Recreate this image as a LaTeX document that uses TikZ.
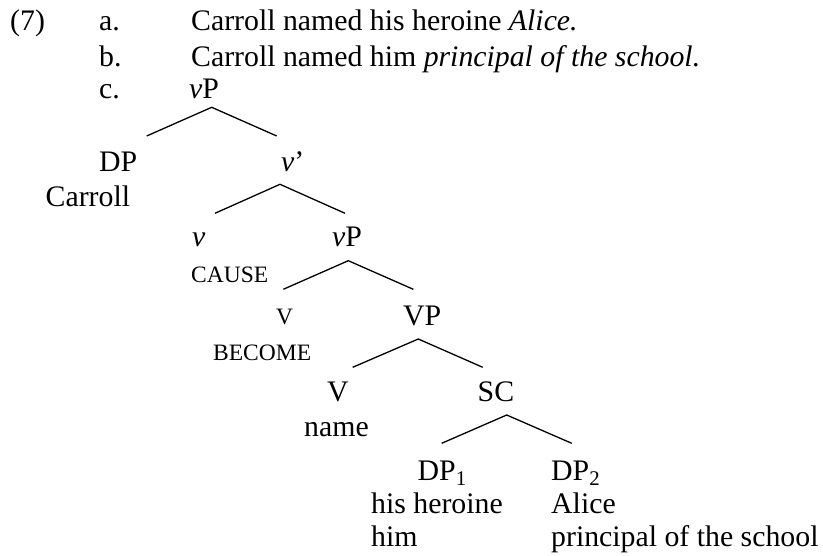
\documentclass[tikz,border=0pt]{standalone}
\usepackage{fontspec}
\setmainfont{Liberation Serif}
\begin{document}
\begin{tikzpicture}[x=1pt,y=-1pt,
  every node/.style={inner sep=0pt, anchor=base west},
  txt/.style={font=\fontsize{29.8}{34}\selectfont},
  sm/.style={font=\fontsize{23.5}{28}\selectfont},
  branch/.style={line width=1.3pt, line join=miter}]
\useasboundingbox (0,0) rectangle (823,556);
% example header
\node[txt] (ex) at (10,31) {(7)};
\node[txt] (la) at (99,31) {a.};
\node[txt] (sa) at (191,31) {Carroll named his heroine \textit{Alice.}};
\node[txt] (lb) at (99,66.7) {b.};
\node[txt] (sb) at (191,66.7) {Carroll named him \textit{principal of the school.}};
\node[txt] (lc) at (99,98.3) {c.};
% tree labels
\node[txt] (vP1) at (189,98.3) {\textit{v}P};
\node[txt] (DP) at (99,172) {DP};
\node[txt] (Carroll) at (45.5,206.7) {Carroll};
\node[txt] (vbar) at (281,172) {\textit{v}’};
\node[txt] (v) at (192,246.7) {\textit{v}};
\node[txt] (vP2) at (332,246.7) {\textit{v}P};
\node[sm] (cause) at (191,282.7) {CAUSE};
\node[sm] (Vs) at (276,325) {V};
\node[txt] (VP) at (403,326) {VP};
\node[sm] (become) at (213,361) {BECOME};
\node[txt] (V) at (327,401.7) {V};
\node[txt] (SC) at (477.5,401.7) {SC};
\node[txt] (name) at (304,436) {name};
\node[txt] (DP1) at (417.5,480) {DP\textsubscript{1}};
\node[txt] (DP2) at (551,480) {DP\textsubscript{2}};
\node[txt] (hh) at (371,513.3) {his heroine};
\node[txt] (alice) at (551,513.3) {Alice};
\node[txt] (him) at (371,546.7) {him};
\node[txt] (pots) at (551,546.7) {principal of the school};
% branch points
\coordinate (b1a) at (211.7,107.3);
\coordinate (b1l) at (146.7,136);
\coordinate (b1r) at (276.7,136);
\coordinate (b2a) at (280,184.3);
\coordinate (b2l) at (215,213.3);
\coordinate (b2r) at (345,213.3);
\coordinate (b3a) at (348.3,260.7);
\coordinate (b3l) at (283.3,289.3);
\coordinate (b3r) at (413.3,289.3);
\coordinate (b4a) at (418.3,339);
\coordinate (b4l) at (352.7,367.3);
\coordinate (b4r) at (482.7,367.3);
\coordinate (b5a) at (506.7,415);
\coordinate (b5l) at (441.7,443.3);
\coordinate (b5r) at (571.7,443.3);
\draw[branch] (b1l) -- (b1a) -- (b1r);
\draw[branch] (b2l) -- (b2a) -- (b2r);
\draw[branch] (b3l) -- (b3a) -- (b3r);
\draw[branch] (b4l) -- (b4a) -- (b4r);
\draw[branch] (b5l) -- (b5a) -- (b5r);
\end{tikzpicture}
\end{document}
